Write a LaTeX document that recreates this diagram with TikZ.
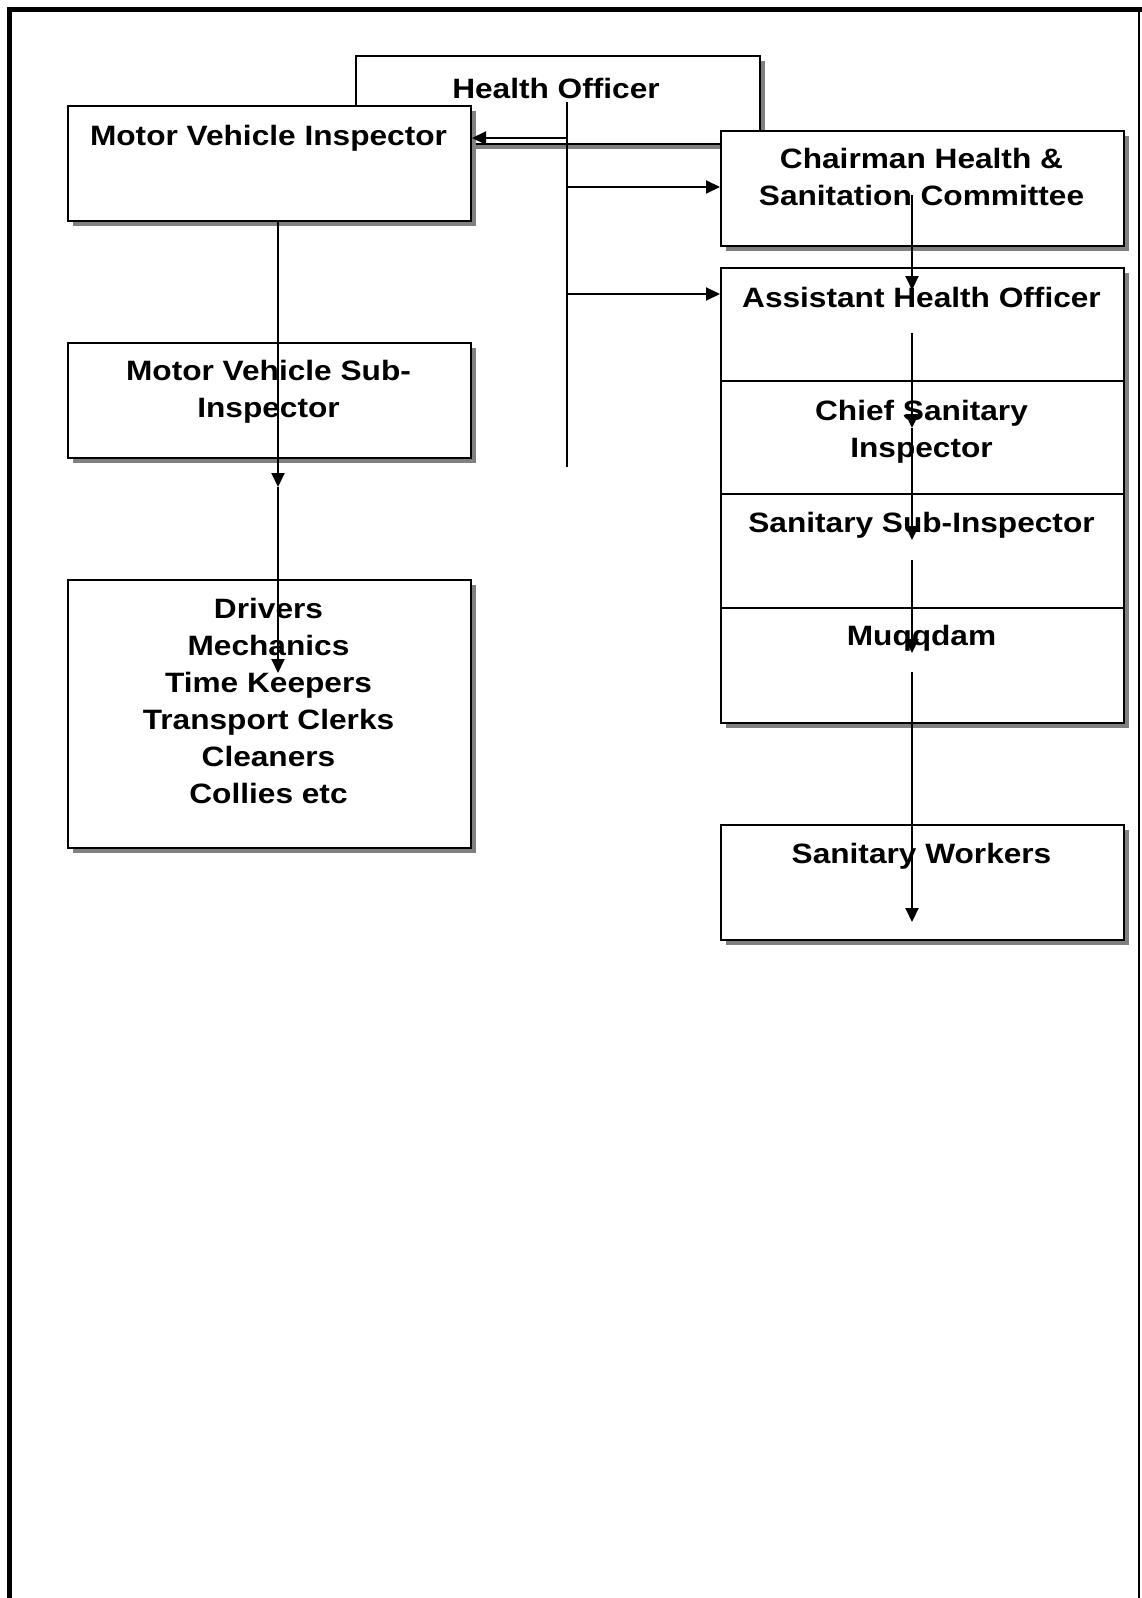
\documentclass[tikz,border=0pt]{standalone}
\usepackage{fontspec}
\setmainfont[FakeStretch=1.13]{Liberation Sans}
\usetikzlibrary{arrows.meta,shadows}
\begin{document}
\begin{tikzpicture}[x=1pt,y=-1pt,
  box/.style={draw, line width=2pt, fill=white, inner sep=0pt, anchor=north west,
    drop shadow={shadow xshift=5pt, shadow yshift=-5pt, fill=black!50, opacity=1}},
  txt/.style={font=\bfseries\fontsize{28}{37}\selectfont, align=center, inner sep=0pt, anchor=north},
  conn/.style={line width=2pt},
  arr/.style={conn, -{Triangle[length=14pt,width=13pt]}},
  framethick/.style={line width=5.5pt},
  framethin/.style={line width=1.8pt}]
\useasboundingbox (0,0) rectangle (1141,1598);
% outer frame
\draw[framethick] (9.7,1600) -- (9.7,9.3) -- (1142,9.3);
\draw[framethin] (1139.2,9.3) -- (1139.2,1600);

% boxes
\node[box, minimum width=404pt, minimum height=88pt] (ho) at (355,55) {};
\node[box, minimum width=403pt, minimum height=115pt] (mvi) at (67,105) {};
\node[box, minimum width=403pt, minimum height=115pt] (mvs) at (67,342) {};
\node[box, minimum width=403pt, minimum height=268pt] (drv) at (67,579) {};
\node[box, minimum width=403pt, minimum height=115pt] (chair) at (720,130) {};
\node[box, minimum width=403pt, minimum height=113pt] (aho) at (720,267) {};
\node[box, minimum width=403pt, minimum height=113pt] (csi) at (720,380) {};
\node[box, minimum width=403pt, minimum height=114pt] (ssi) at (720,493) {};
\node[box, minimum width=403pt, minimum height=115pt] (muq) at (720,607) {};
\node[box, minimum width=403pt, minimum height=115pt] (sw) at (720,824) {};

% texts
\node[txt] (hot) at (556,78) {Health Officer};
\node[txt] (mvit) at (268.5,125) {Motor Vehicle Inspector};
\node[txt] (mvst) at (268.5,360) {Motor Vehicle Sub-\\Inspector};
\node[txt] (drvt) at (268.5,598) {Drivers\\Mechanics\\Time Keepers\\Transport Clerks\\Cleaners\\Collies etc};
\node[txt] (chairt) at (921.5,148) {Chairman Health \&\\Sanitation Committee};
\node[txt] (ahot) at (921.5,287) {Assistant Health Officer};
\node[txt] (csit) at (921.5,400) {Chief Sanitary\\Inspector};
\node[txt] (ssit) at (921.5,512) {Sanitary Sub-Inspector};
\node[txt] (muqt) at (921.5,625) {Muqqdam};
\node[txt] (swt) at (921.5,843) {Sanitary Workers};

% connector points
\coordinate (hoTop) at (567,102);
\coordinate (hoBot) at (567,467);
\coordinate (hoM) at (567,138);
\coordinate (hoC) at (567,187);
\coordinate (hoA) at (567,294);
\coordinate (l0) at (278,220);
\coordinate (l1) at (278,487);
\coordinate (l2) at (278,673);
\coordinate (r0) at (912,195);
\coordinate (r1) at (912,290);
\coordinate (r2) at (912,333);
\coordinate (r3) at (912,428);
\coordinate (r4) at (912,540);
\coordinate (r5) at (912,560);
\coordinate (r6) at (912,653);
\coordinate (r7) at (912,672);
\coordinate (r8) at (912,922);

% connectors
\draw[conn] (hoTop) -- (hoBot);
\draw[arr] (hoM) -- (mvi.east |- hoM);
\draw[arr] (hoC) -- (chair.west |- hoC);
\draw[arr] (hoA) -- (aho.west |- hoA);
\draw[arr] (l0) -- (l1);
\draw[arr] (l1) -- (l2);
\draw[arr] (r0) -- (r1);
\draw[arr] (r2) -- (r3);
\draw[arr] (r3) -- (r4);
\draw[arr] (r5) -- (r6);
\draw[arr] (r7) -- (r8);
\end{tikzpicture}
\end{document}
